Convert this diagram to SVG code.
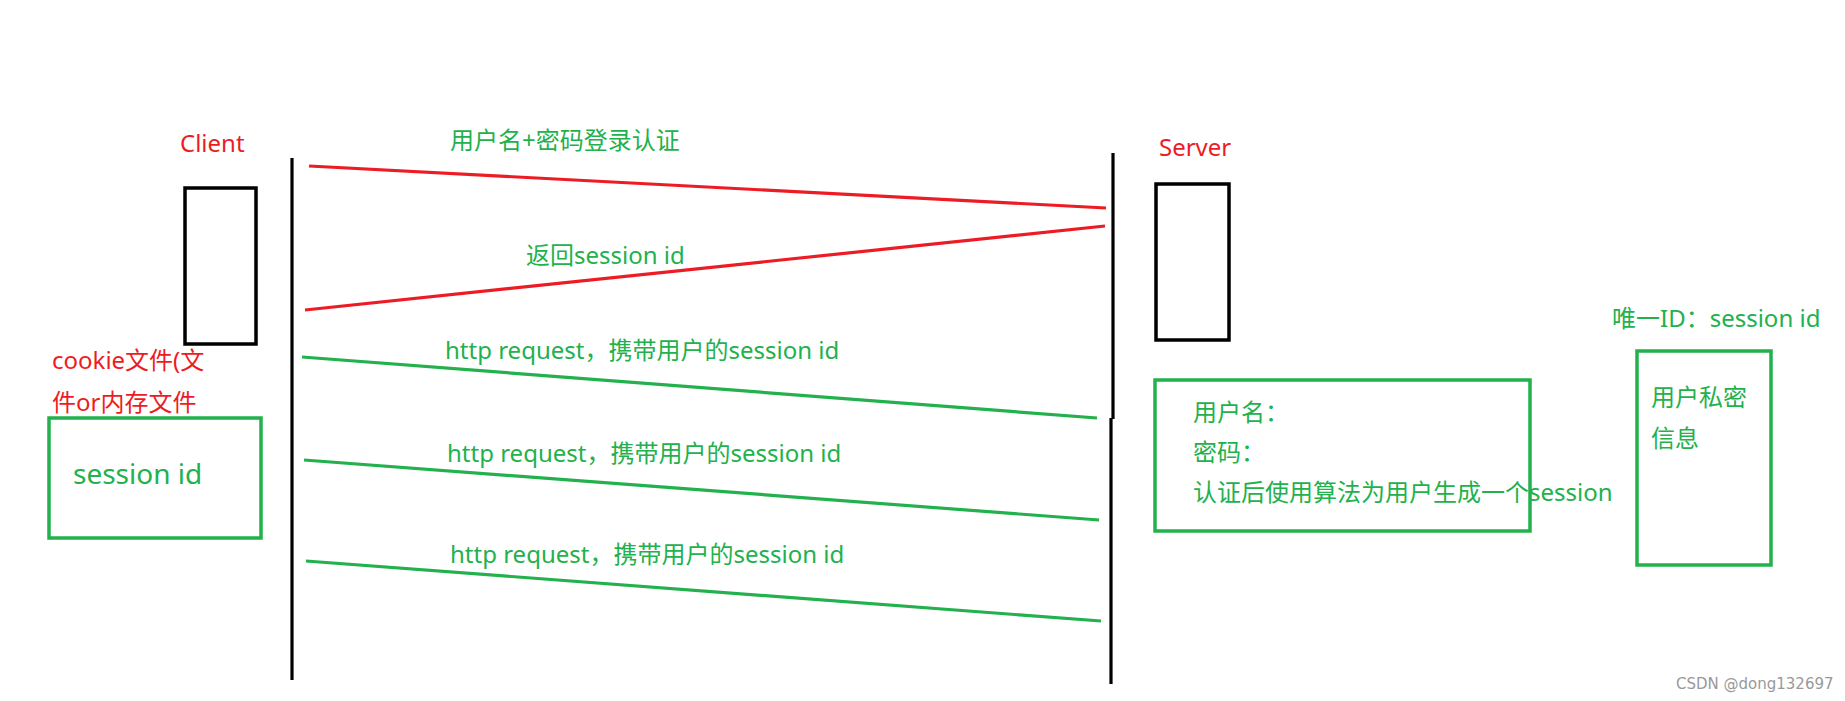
<svg xmlns="http://www.w3.org/2000/svg" width="1845" height="701" viewBox="0 0 1845 701">
<style>
  text { font-family: "Noto Sans", "Noto Sans CJK SC", sans-serif; font-size: 24px; }
  .red { fill: #ED1C24; }
  .grn { fill: #22B14C; }
  .blk { fill: none; stroke: #000; stroke-width: 3.5; }
  .gbox { fill: none; stroke: #22B14C; stroke-width: 3.5; }
  .rl { stroke: #ED1C24; stroke-width: 3.2; fill: none; }
  .gl { stroke: #22B14C; stroke-width: 3.2; fill: none; }
  .wm { fill: #999; font-family: "DejaVu Sans", sans-serif; font-size: 15px; }
</style>
<rect width="1845" height="701" fill="#fff"/>

<g id="client">
  <text class="red" x="180" y="152">Client</text>
  <rect class="blk" x="185" y="188" width="71" height="156"/>
  <line x1="292" y1="158" x2="292" y2="680" stroke="#000" stroke-width="3.2"/>
</g>

<g id="server">
  <text class="red" x="1159" y="156">Server</text>
  <rect class="blk" x="1156" y="184" width="73" height="156"/>
  <line x1="1113" y1="153" x2="1113" y2="419" stroke="#000" stroke-width="3.2"/>
  <line x1="1111" y1="418" x2="1111" y2="684" stroke="#000" stroke-width="3.2"/>
</g>

<g id="cookie">
  <text class="red" x="52" y="369">cookie文件(文</text>
  <text class="red" x="52" y="411">件or内存文件</text>
  <rect class="gbox" x="49" y="418" width="212" height="120"/>
  <text class="grn" x="73" y="484" style="font-size:28px">session id</text>
</g>

<g id="server-store">
  <rect class="gbox" x="1155" y="380" width="375" height="151"/>
  <text class="grn" x="1193" y="421">用户名：</text>
  <text class="grn" x="1193" y="461">密码：</text>
  <text class="grn" x="1193" y="501">认证后使用算法为用户生成一个session</text>
</g>

<g id="session-store">
  <text class="grn" x="1612" y="327">唯一ID：session id</text>
  <rect class="gbox" x="1637" y="351" width="134" height="214"/>
  <text class="grn" x="1651" y="406">用户私密</text>
  <text class="grn" x="1651" y="447">信息</text>
</g>

<g id="connectors">
  <line class="rl" x1="309" y1="166" x2="1106" y2="208"/>
  <line class="rl" x1="305" y1="310" x2="1105" y2="226"/>
  <line class="gl" x1="302" y1="357" x2="1097" y2="418"/>
  <line class="gl" x1="304" y1="460" x2="1099" y2="520"/>
  <line class="gl" x1="306" y1="561" x2="1101" y2="621"/>
  <text class="grn" x="450" y="149">用户名+密码登录认证</text>
  <text class="grn" x="526" y="264">返回session id</text>
  <text class="grn" x="445" y="359">http request，携带用户的session id</text>
  <text class="grn" x="447" y="462">http request，携带用户的session id</text>
  <text class="grn" x="450" y="563">http request，携带用户的session id</text>
</g>

<text class="wm" x="1676" y="689">CSDN @dong132697</text>
</svg>
